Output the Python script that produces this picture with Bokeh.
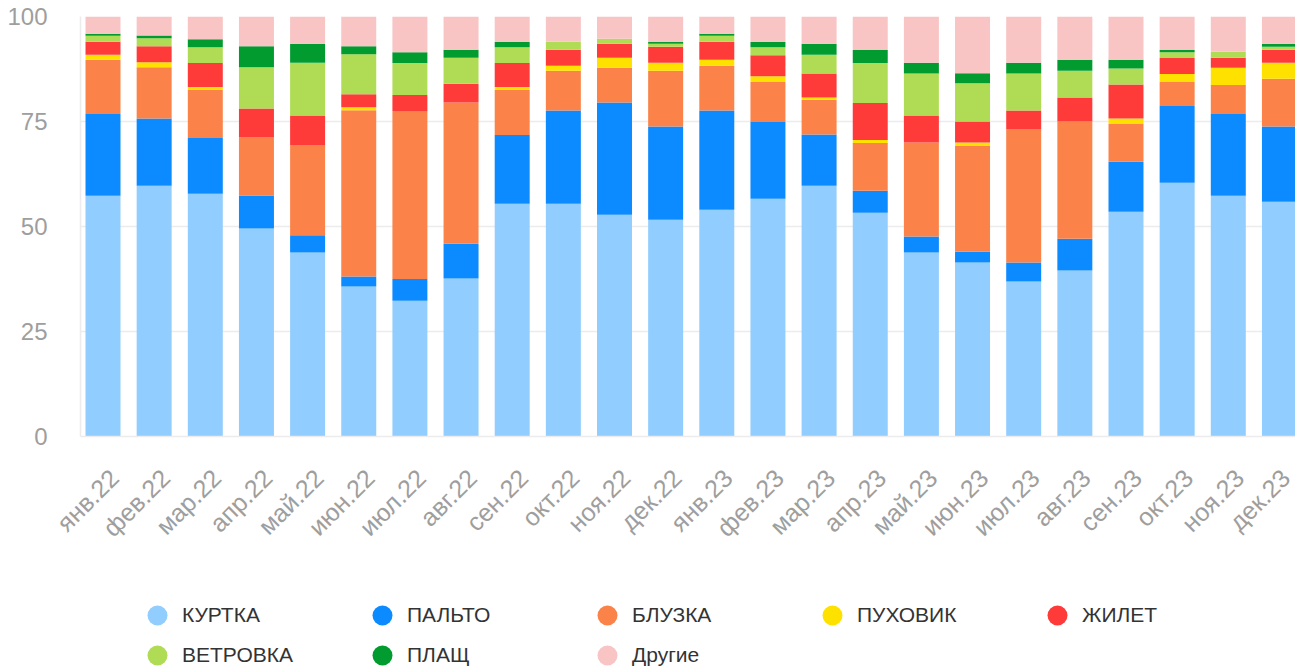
import math
import numpy as np
from bokeh.plotting import figure
from bokeh.layouts import column
from bokeh.models import ColumnDataSource, Range1d, FixedTicker, Legend, LegendItem
from bokeh.embed import file_html
from bokeh.resources import INLINE

months = ["янв.22", "фев.22", "мар.22", "апр.22", "май.22", "июн.22", "июл.22", "авг.22",
          "сен.22", "окт.22", "ноя.22", "дек.22", "янв.23", "фев.23", "мар.23", "апр.23",
          "май.23", "июн.23", "июл.23", "авг.23", "сен.23", "окт.23", "ноя.23", "дек.23"]

kurtka = [57.3, 59.7, 57.8, 49.5, 43.8, 35.7, 32.3, 37.6, 55.4, 55.4, 52.8, 51.6,
          54.0, 56.6, 59.7, 53.3, 43.8, 41.4, 36.9, 39.5, 53.5, 60.4, 57.3, 55.9]
palto = [19.5, 16.0, 13.3, 7.9, 4.1, 2.4, 5.2, 8.3, 16.4, 22.2, 26.7, 22.2,
         23.6, 18.3, 12.2, 5.2, 3.8, 2.6, 4.5, 7.6, 11.9, 18.3, 19.5, 17.9]
bluzka = [12.9, 12.2, 11.4, 13.8, 21.4, 39.6, 40.0, 33.6, 10.7, 9.5, 8.3, 13.3,
          10.7, 9.5, 8.3, 11.4, 22.4, 25.3, 31.7, 27.9, 9.1, 5.7, 6.9, 11.4]
puhovik = [1.2, 1.2, 0.7, 0.0, 0.0, 0.7, 0.0, 0.0, 0.7, 1.2, 2.4, 1.9,
           1.4, 1.4, 0.5, 0.7, 0.0, 0.7, 0.0, 0.0, 1.2, 1.9, 4.1, 3.8]
zhilet = [3.1, 3.8, 5.7, 6.9, 7.1, 3.1, 3.8, 4.5, 5.7, 3.8, 3.3, 3.8,
          4.3, 5.0, 5.7, 8.8, 6.4, 5.0, 4.5, 5.7, 8.1, 3.8, 2.4, 3.1]
vetrovka = [1.4, 1.9, 3.8, 9.8, 12.6, 9.5, 7.6, 6.2, 3.8, 1.9, 1.2, 0.7,
            1.4, 1.9, 4.5, 9.5, 10.0, 9.1, 8.8, 6.4, 3.8, 1.4, 1.4, 0.7]
plashch = [0.5, 0.7, 1.9, 5.0, 4.5, 1.9, 2.6, 1.9, 1.2, 0.0, 0.0, 0.5,
           0.5, 1.2, 2.6, 3.1, 2.6, 2.4, 2.6, 2.6, 2.1, 0.5, 0.0, 0.7]
drugie = [4.1, 4.5, 5.4, 7.1, 6.5, 7.1, 8.5, 7.9, 6.1, 6.0, 5.3, 6.0,
          4.1, 6.1, 6.5, 8.0, 11.0, 13.5, 11.0, 10.3, 10.3, 8.0, 8.4, 6.5]

series_names = ["КУРТКА", "ПАЛЬТО", "БЛУЗКА", "ПУХОВИК", "ЖИЛЕТ", "ВЕТРОВКА", "ПЛАЩ", "Другие"]
series_values = [kurtka, palto, bluzka, puhovik, zhilet, vetrovka, plashch, drugie]
colors = ["#91CDFE", "#0C8AFF", "#FB8349", "#FFE100", "#FF3B3A", "#B0DC55", "#029B30", "#F8C4C4"]
y_ticks = [0, 25, 50, 75, 100]

x_idx = list(range(len(months)))
keys = ["s%d" % i for i in range(len(series_names))]
data = {"x": x_idx}
for k, v in zip(keys, series_values):
    data[k] = v
source = ColumnDataSource(data=data)

p = figure(width=1295, height=560, output_backend="svg", toolbar_location=None,
           x_range=Range1d(-0.44, 23.314), y_range=Range1d(0, 100),
           min_border_left=80, min_border_right=0, min_border_top=16, min_border_bottom=124)
p.outline_line_color = None
p.background_fill_color = "white"
p.border_fill_color = "white"

p.vbar_stack(keys, x="x", width=0.684, fill_color=colors, line_color=None, source=source)

p.yaxis.ticker = FixedTicker(ticks=y_ticks)
p.yaxis.major_tick_line_color = None
p.yaxis.minor_tick_line_color = None
p.yaxis.axis_line_color = "#ececec"
p.yaxis.axis_line_width = 1.5
p.yaxis.major_label_text_font = "Liberation Sans"
p.yaxis.major_label_text_font_size = "24px"
p.yaxis.major_label_text_color = "#9e9e9e"
p.yaxis.major_label_standoff = 27

# tick labels sit slightly right of the bar centres, as in the reference
label_shift = 0.22
label_ticks = [i + label_shift for i in x_idx]
p.xaxis.ticker = FixedTicker(ticks=label_ticks)
p.xaxis.major_label_overrides = {t: m for t, m in zip(label_ticks, months)}
p.xaxis.major_label_orientation = math.pi / 4
p.xaxis.major_tick_line_color = None
p.xaxis.minor_tick_line_color = None
p.xaxis.axis_line_color = "#ececec"
p.xaxis.axis_line_width = 1.5
p.xaxis.major_label_text_font = "Liberation Sans"
p.xaxis.major_label_text_font_size = "25px"
p.xaxis.major_label_text_color = "#9e9e9e"
p.xaxis.major_label_standoff = 31

p.xgrid.grid_line_color = None
p.ygrid.ticker = FixedTicker(ticks=y_ticks)
p.ygrid.grid_line_color = "#ececec"
p.ygrid.grid_line_width = 1.5

# legend figure
pl = figure(width=1295, height=110, output_backend="svg", toolbar_location=None,
            x_axis_location=None, y_axis_location=None,
            x_range=Range1d(0, 1), y_range=Range1d(0, 1),
            min_border_left=0, min_border_right=0, min_border_top=0, min_border_bottom=0)
pl.outline_line_color = None
pl.grid.visible = False
proxy = ColumnDataSource(data=dict(x=np.array([np.nan]), y=np.array([np.nan])))
items = []
for name, c in zip(series_names, colors):
    r = pl.scatter(x="x", y="y", source=proxy, marker="circle", size=20,
                   fill_color=c, line_color=None)
    items.append(LegendItem(label=name, renderers=[r]))

legend_style = dict(orientation="horizontal", glyph_width=50, glyph_height=50,
                    label_standoff=0, label_width=175, spacing=0, padding=0, margin=0,
                    border_line_color=None, background_fill_alpha=0,
                    label_text_font="Liberation Sans", label_text_font_size="21px",
                    label_text_color="#333333")
legend_top = Legend(items=items[:5], location=(52, 30), **legend_style)
legend_bottom = Legend(items=items[5:], location=(52, -10), **legend_style)
pl.add_layout(legend_top, "center")
pl.add_layout(legend_bottom, "center")

layout = column(p, pl, spacing=0)
open("out.html", "w").write(file_html(layout, INLINE))
